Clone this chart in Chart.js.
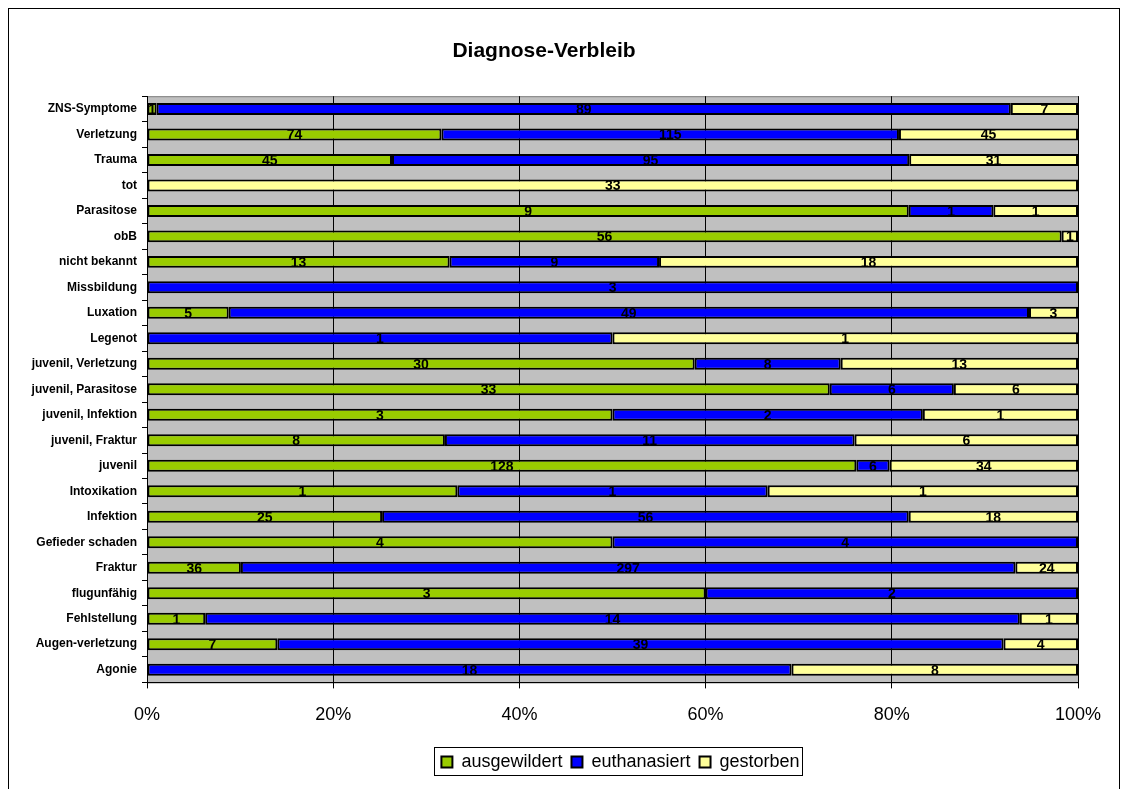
<!DOCTYPE html>
<html>
<head>
<meta charset="utf-8">
<script src="https://cdn.jsdelivr.net/npm/chart.js@4.4.0/dist/chart.umd.min.js"></script>
<style>
  html, body { margin: 0; padding: 0; background: #fff; }
  #wrap { width: 1127px; height: 789px; }
</style>
</head>
<body>
<div id="wrap"><canvas id="chart"></canvas></div>
<script>
// categories top to bottom, counts per outcome
const categories = [
  "ZNS-Symptome", "Verletzung", "Trauma", "tot", "Parasitose", "obB",
  "nicht bekannt", "Missbildung", "Luxation", "Legenot",
  "juvenil, Verletzung", "juvenil, Parasitose", "juvenil, Infektion",
  "juvenil, Fraktur", "juvenil", "Intoxikation", "Infektion",
  "Gefieder schaden", "Fraktur", "flugunfähig", "Fehlstellung",
  "Augen-verletzung", "Agonie"
];
const ausgewildert = [1, 74, 45, 0, 9, 56, 13, 0, 5, 0, 30, 33, 3, 8, 128, 1, 25, 4, 36, 3, 1, 7, 0];
const euthanasiert = [89, 115, 95, 0, 1, 0, 9, 3, 49, 1, 8, 6, 2, 11, 6, 1, 56, 4, 297, 2, 14, 39, 18];
const gestorben = [7, 45, 31, 33, 1, 1, 18, 0, 3, 1, 13, 6, 1, 6, 34, 1, 18, 0, 24, 0, 1, 4, 8];
const tickLabels = ["0%", "20%", "40%", "60%", "80%", "100%"];

const totals = categories.map((c, i) => ausgewildert[i] + euthanasiert[i] + gestorben[i]);
const pct = arr => arr.map((v, i) => v / totals[i] * 100);

const series = [
  { label: "ausgewildert", counts: ausgewildert, color: "#99CC00" },
  { label: "euthanasiert", counts: euthanasiert, color: "#0000FF" },
  { label: "gestorben", counts: gestorben, color: "#FFFF99" }
];

const LEGEND_CX = 625;   // wanted centre of the legend items
const LEGEND_CY = 762;   // wanted text middle

const plotBg = {
  id: "plotBg",
  afterLayout(chart) {
    // move the legend under the plot like Excel does
    const lg = chart.legend;
    const pad = lg.options.labels.padding;
    const hb = lg.legendHitBoxes && lg.legendHitBoxes[0];
    const ih = (hb && hb.height) || 22;
    const dx = LEGEND_CX - (lg.left + lg.right + pad) / 2;
    const dy = LEGEND_CY - (lg.top + pad + ih / 2);
    if (isFinite(dx) && isFinite(dy)) {
      lg.left += dx; lg.right += dx;
      lg.top += dy; lg.bottom += dy;
    }
  },
  beforeDraw(chart) {
    const { ctx, chartArea: a } = chart;
    ctx.save();
    ctx.fillStyle = "#C0C0C0";
    ctx.fillRect(a.left, a.top, a.right - a.left, a.bottom - a.top);
    ctx.strokeStyle = "#808080";
    ctx.lineWidth = 1;
    ctx.strokeRect(a.left + 0.5, a.top + 0.5, a.right - a.left, a.bottom - a.top);
    ctx.restore();
  },
  afterDraw(chart) {
    const ctx = chart.ctx;
    ctx.save();
    // outer frame
    ctx.strokeStyle = "#000";
    ctx.lineWidth = 1;
    ctx.strokeRect(8.5, 8.5, 1111, 800);
    // legend frame
    const boxes = chart.legend.legendHitBoxes;
    if (boxes && boxes.length) {
      let l = Infinity, r = -Infinity, cy = 0;
      boxes.forEach(h => {
        l = Math.min(l, h.left); r = Math.max(r, h.left + h.width);
        cy += h.top + h.height / 2;
      });
      cy /= boxes.length;
      ctx.strokeRect(Math.round(l) - 6.5, Math.round(cy) - 14.5, Math.round(r - l) + 10, 28);
    }
    ctx.restore();
  }
};

const segLabels = {
  id: "segLabels",
  afterDatasetsDraw(chart) {
    const ctx = chart.ctx;
    ctx.save();
    ctx.font = "bold 14px Arial, 'Liberation Sans'";
    ctx.fillStyle = "#000";
    ctx.textAlign = "center";
    ctx.textBaseline = "middle";
    chart.data.datasets.forEach((ds, di) => {
      chart.getDatasetMeta(di).data.forEach((bar, i) => {
        const n = ds.counts[i];
        if (!n) return;
        ctx.fillText(String(n), (bar.x + bar.base) / 2, bar.y + 1);
      });
    });
    ctx.restore();
  }
};

new Chart(document.getElementById("chart"), {
  type: "bar",
  data: {
    labels: categories,
    datasets: series.map(s => ({
      label: s.label,
      counts: s.counts,
      data: pct(s.counts),
      backgroundColor: s.color,
      borderColor: "#000",
      borderWidth: 2,
      borderSkipped: false,
      barPercentage: 0.47,
      categoryPercentage: 1
    }))
  },
  options: {
    indexAxis: "y",
    responsive: true,
    maintainAspectRatio: false,
    animation: false,
    layout: { padding: { left: 10, right: 49, top: 8, bottom: 10 } },
    plugins: {
      title: {
        display: true,
        text: "Diagnose-Verbleib",
        color: "#000",
        font: { family: "Arial, 'Liberation Sans'", size: 21, weight: "bold" },
        padding: { top: 31, bottom: 32 }
      },
      legend: {
        position: "bottom",
        labels: {
          color: "#000",
          font: { family: "Arial, 'Liberation Sans'", size: 18 },
          boxWidth: 11,
          boxHeight: 11,
          padding: 9
        }
      },
      tooltip: { enabled: false }
    },
    scales: {
      x: {
        stacked: true,
        min: 0,
        max: 100,
        ticks: {
          stepSize: 20,
          color: "#000",
          padding: 16,
          font: { family: "Arial, 'Liberation Sans'", size: 18 },
          callback: (v) => tickLabels[Math.round(v / 20)]
        },
        grid: { color: "#000", lineWidth: 1, tickLength: 6 },
        border: { color: "#000" }
      },
      y: {
        stacked: true,
        afterFit(scale) { scale.width = 137; },
        ticks: {
          color: "#000",
          padding: 5,
          autoSkip: false,
          font: { family: "Arial, 'Liberation Sans'", size: 12, weight: "bold" }
        },
        grid: { drawOnChartArea: false, color: "#000", tickLength: 5, offset: true },
        border: { color: "#000" }
      }
    }
  },
  plugins: [plotBg, segLabels]
});
</script>
</body>
</html>
